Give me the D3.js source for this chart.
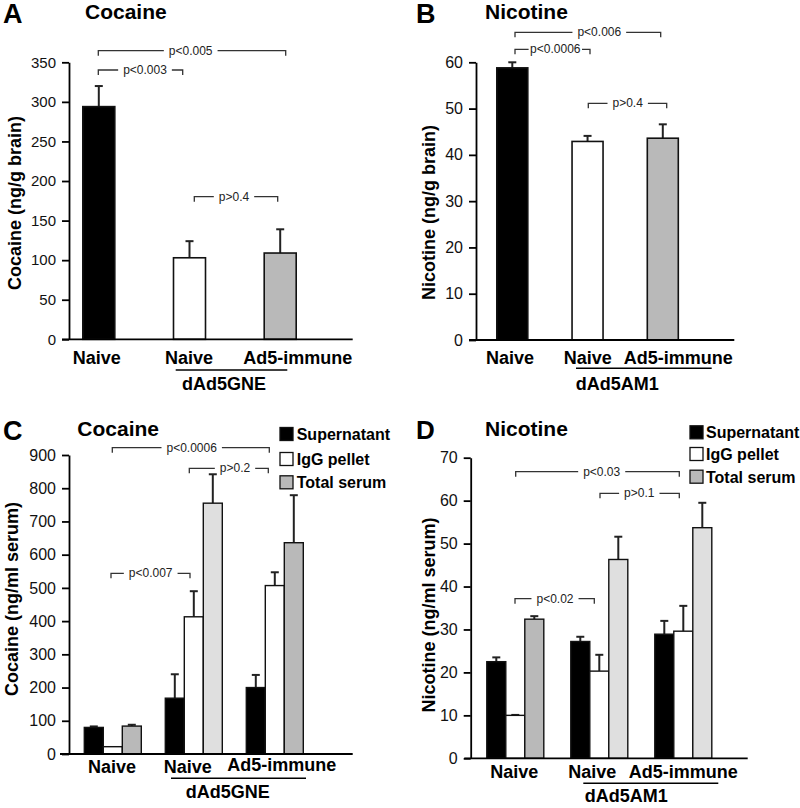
<!DOCTYPE html>
<html><head><meta charset="utf-8">
<script src="https://cdn.jsdelivr.net/npm/d3@7"></script>
<style>body{margin:0;background:#fff}svg{display:block}text{font-family:"Liberation Sans",Arial,sans-serif}</style>
</head><body>
<svg id="c" width="800" height="808"></svg>
<script>
// ---------- DATA ----------
const groupLabels = ["Naive", "Naive", "Ad5-immune"];
const legendLabels = ["Supernatant", "IgG pellet", "Total serum"];
// Panel A: cocaine in brain (ng/g)
const brainCocaine = [294, 103, 109];
const brainCocaineErr = [26, 21, 30];
const brainCocaineTicks = [0, 50, 100, 150, 200, 250, 300, 350];
// Panel B: nicotine in brain (ng/g)
const brainNicotine = [58.8, 42.9, 43.6];
const brainNicotineErr = [1.2, 1.2, 3.0];
const brainNicotineTicks = [0, 10, 20, 30, 40, 50, 60];
// Panel C: cocaine in serum (ng/ml)
const serumCocaineSup = [80, 168, 200];
const serumCocaineIgG = [22, 413, 507];
const serumCocaineTotal = [84, 755, 636];
const serumCocaineSupErr = [3, 72, 38];
const serumCocaineIgGErr = [0, 77, 40];
const serumCocaineTotalErr = [4, 87, 143];
const serumCocaineTicks = [0, 100, 200, 300, 400, 500, 600, 700, 800, 900];
// Panel D: nicotine in serum (ng/ml)
const serumNicotineSup = [22.5, 27.2, 28.9];
const serumNicotineIgG = [10.0, 20.3, 29.6];
const serumNicotineTotal = [32.4, 46.3, 53.7];
const serumNicotineSupErr = [1.0, 1.1, 3.1];
const serumNicotineIgGErr = [0.1, 3.8, 5.9];
const serumNicotineTotalErr = [0.7, 5.3, 5.8];
const serumNicotineTicks = [0, 10, 20, 30, 40, 50, 60, 70];

// ---------- STYLE ----------
const BLACK = "#000", WHITE = "#fff", MID = "#b9b9b9", LIGHT = "#dfdfdf";
const FONT = '"Liberation Sans", Arial, sans-serif';
const svg = d3.select("#c");

function yAxis(g, cfg, y) {
  g.append("g").attr("transform", `translate(${cfg.axisX},0)`)
    .call(d3.axisLeft(y).tickValues(cfg.ticks).tickSize(7).tickSizeOuter(0).tickPadding(6).tickFormat(d3.format("d")))
    .call(s => s.selectAll("path,line").attr("stroke", "#000").attr("stroke-width", 1.8))
    .call(s => s.selectAll("text").attr("font-size", cfg.tickFont).attr("font-family", FONT).attr("fill", "#111"));
  g.append("line").attr("x1", cfg.xAxis[0]).attr("x2", cfg.xAxis[1])
    .attr("y1", y(0)).attr("y2", y(0)).attr("stroke", "#000").attr("stroke-width", 1.8);
}

function titles(g, cfg) {
  g.append("text").attr("x", cfg.letter[0]).attr("y", cfg.letter[1]).attr("font-size", cfg.letter[3]).attr("font-weight", "bold").text(cfg.letter[2]);
  g.append("text").attr("x", cfg.title[0]).attr("y", cfg.title[1]).attr("font-size", 21).attr("font-weight", "bold").text(cfg.title[2]);
  g.append("text").attr("transform", `translate(${cfg.ytitle[0]},${cfg.ytitle[1]}) rotate(-90)`)
    .attr("text-anchor", "middle").attr("font-size", 18).attr("font-weight", "bold").text(cfg.ytitle[2]);
}

function xLabels(g, cfg) {
  groupLabels.forEach((t, i) => {
    g.append("text").attr("x", cfg.labelX[i]).attr("y", cfg.labelY[i]).attr("text-anchor", "middle")
      .attr("font-size", 18).attr("font-weight", "bold").text(t);
  });
  g.append("line").attr("x1", cfg.groupLine[0]).attr("x2", cfg.groupLine[1]).attr("y1", cfg.groupLine[2]).attr("y2", cfg.groupLine[2])
    .attr("stroke", "#000").attr("stroke-width", 1.5);
  g.append("text").attr("x", cfg.groupName[0]).attr("y", cfg.groupName[1]).attr("text-anchor", "middle")
    .attr("font-size", 18).attr("font-weight", "bold").text(cfg.groupName[2]);
}

function brackets(g, list) {
  list.forEach(b => {
    const [x1, x2, yy, txt, tx, pad] = b;
    const path = g.append("path").attr("fill", "none").attr("stroke", "#333").attr("stroke-width", 1.3);
    const t = g.append("text").attr("x", tx).attr("y", yy + 4).attr("text-anchor", "middle")
      .attr("font-size", 12).attr("fill", "#222").text(txt);
    const w = t.node().getComputedTextLength();
    const p = pad === undefined ? 5 : pad;
    path.attr("d", `M${x1},${yy + 5}V${yy}H${tx - w / 2 - p}M${tx + w / 2 + p},${yy}H${x2}V${yy + 5}`);
  });
}

function errBar(g, cx, y, v, e) {
  if (e <= 0) return;
  g.append("line").attr("x1", cx).attr("x2", cx).attr("y1", y(v)).attr("y2", y(v + e)).attr("stroke", "#222").attr("stroke-width", 2);
  g.append("line").attr("x1", cx - 4).attr("x2", cx + 4).attr("y1", y(v + e)).attr("y2", y(v + e)).attr("stroke", "#222").attr("stroke-width", 2);
}

function simplePanel(cfg, vals, errs) {
  const g = svg.append("g");
  const y = d3.scaleLinear().domain([0, cfg.ticks[cfg.ticks.length - 1]]).range([cfg.y0, cfg.yTop]);
  const x = d3.scalePoint().domain(d3.range(vals.length)).range(cfg.xRange);
  const fills = [BLACK, WHITE, MID];
  vals.forEach((v, i) => {
    errBar(g, x(i), y, v, errs[i]);
    g.append("rect").attr("x", x(i) - cfg.barW / 2).attr("width", cfg.barW).attr("y", y(v)).attr("height", y(0) - y(v))
      .attr("fill", fills[i]).attr("stroke", "#111").attr("stroke-width", 1.6);
  });
  yAxis(g, cfg, y);
  titles(g, cfg);
  xLabels(g, cfg);
  brackets(g, cfg.brackets);
}

function groupedPanel(cfg, series, errs, totalFills) {
  const g = svg.append("g");
  const y = d3.scaleLinear().domain([0, cfg.ticks[cfg.ticks.length - 1]]).range([cfg.y0, cfg.yTop]);
  const x = d3.scalePoint().domain(d3.range(3)).range(cfg.xRange);
  const sub = d3.scaleBand().domain(d3.range(3)).range([-1.5 * cfg.barW, 1.5 * cfg.barW]);
  series.forEach((vals, s) => {
    vals.forEach((v, i) => {
      const fill = s === 0 ? BLACK : s === 1 ? WHITE : totalFills[i];
      const cx = x(i) + sub(s) + sub.bandwidth() / 2;
      errBar(g, cx, y, v, errs[s][i]);
      g.append("rect").attr("x", x(i) + sub(s)).attr("width", sub.bandwidth()).attr("y", y(v)).attr("height", y(0) - y(v))
        .attr("fill", fill).attr("stroke", "#111").attr("stroke-width", 1.4);
    });
  });
  yAxis(g, cfg, y);
  titles(g, cfg);
  xLabels(g, cfg);
  brackets(g, cfg.brackets);
  const legFills = [BLACK, WHITE, MID];
  legendLabels.forEach((t, i) => {
    const cy = cfg.legend[1][i];
    g.append("rect").attr("x", cfg.legend[0]).attr("y", cy - 6.5).attr("width", 13).attr("height", 13)
      .attr("fill", legFills[i]).attr("stroke", "#111").attr("stroke-width", 1.3);
    g.append("text").attr("x", cfg.legend[2]).attr("y", cy + 6).attr("font-size", 16).attr("font-weight", "bold").text(t);
  });
}

// ---------- PANELS ----------
simplePanel({
  axisX: 69, y0: 339.3, yTop: 62.3, ticks: brainCocaineTicks, tickFont: 15,
  xRange: [98.8, 280.2], barW: 32, xAxis: [62, 352.7],
  letter: [3, 22.7, "A", 27], title: [85, 18.5, "Cocaine"], ytitle: [21, 203, "Cocaine (ng/g brain)"],
  labelX: [96.7, 189, 297.7], labelY: [364, 364, 364], groupLine: [175.7, 287.3, 370], groupName: [224, 390, "dAd5GNE"],
  brackets: [[98.3, 285.7, 50.7, "p<0.005", 190.7], [98.3, 182.7, 70, "p<0.003", 145], [194.3, 277.7, 196.7, "p>0.4", 234]]
}, brainCocaine, brainCocaineErr);

simplePanel({
  axisX: 476, y0: 340, yTop: 62.3, ticks: brainNicotineTicks, tickFont: 16,
  xRange: [512.3, 662.8], barW: 31, xAxis: [469, 734.3],
  letter: [416, 22.7, "B", 27], title: [485, 18.5, "Nicotine"], ytitle: [435, 212.5, "Nicotine (ng/g brain)"],
  labelX: [510, 587.7, 678.3], labelY: [363.5, 363.5, 363.5], groupLine: [576, 711.7, 368.3], groupName: [617.3, 390, "dAd5AM1"],
  brackets: [[515, 660.7, 32.3, "p<0.006", 599.3], [515, 590, 49.3, "p<0.0006", 555.3, 1.5], [588.3, 666.7, 103.3, "p>0.4", 627.7]]
}, brainNicotine, brainNicotineErr);

groupedPanel({
  axisX: 69, y0: 754, yTop: 455, ticks: serumCocaineTicks, tickFont: 16,
  xRange: [112.8, 274.8], barW: 19, xAxis: [60, 352.7],
  letter: [3, 439.5, "C", 27], title: [77.3, 435.5, "Cocaine"], ytitle: [18, 599, "Cocaine (ng/ml serum)"],
  labelX: [112, 187.7, 281.7], labelY: [773.3, 773.3, 770.7], groupLine: [171, 306, 778.3], groupName: [227.7, 797.7, "dAd5GNE"],
  brackets: [[112.3, 269.3, 447.7, "p<0.0006", 191.7], [189.3, 268.3, 468.3, "p>0.2", 235], [111, 190, 573.3, "p<0.007", 150.7]],
  legend: [280, [434, 459, 482.3], 296.7]
}, [serumCocaineSup, serumCocaineIgG, serumCocaineTotal], [serumCocaineSupErr, serumCocaineIgGErr, serumCocaineTotalErr], [MID, LIGHT, MID]);

groupedPanel({
  axisX: 470.7, y0: 758.3, yTop: 457.7, ticks: serumNicotineTicks, tickFont: 16,
  xRange: [515.3, 683.3], barW: 19, xAxis: [464.3, 747.7],
  letter: [416, 439.3, "D", 26], title: [485, 435.7, "Nicotine"], ytitle: [435, 615, "Nicotine (ng/ml serum)"],
  labelX: [514.3, 592.3, 683.3], labelY: [777.7, 777.7, 777.7], groupLine: [583.3, 718.3, 783.3], groupName: [626.3, 801.7, "dAd5AM1"],
  brackets: [[515.7, 679.3, 471.7, "p<0.03", 601.7], [600, 679.3, 493.3, "p>0.1", 639.3], [515, 594.3, 598.7, "p<0.02", 555]],
  legend: [690, [432.3, 454, 476.7], 706]
}, [serumNicotineSup, serumNicotineIgG, serumNicotineTotal], [serumNicotineSupErr, serumNicotineIgGErr, serumNicotineTotalErr], [MID, LIGHT, LIGHT]);
</script>
</body></html>
